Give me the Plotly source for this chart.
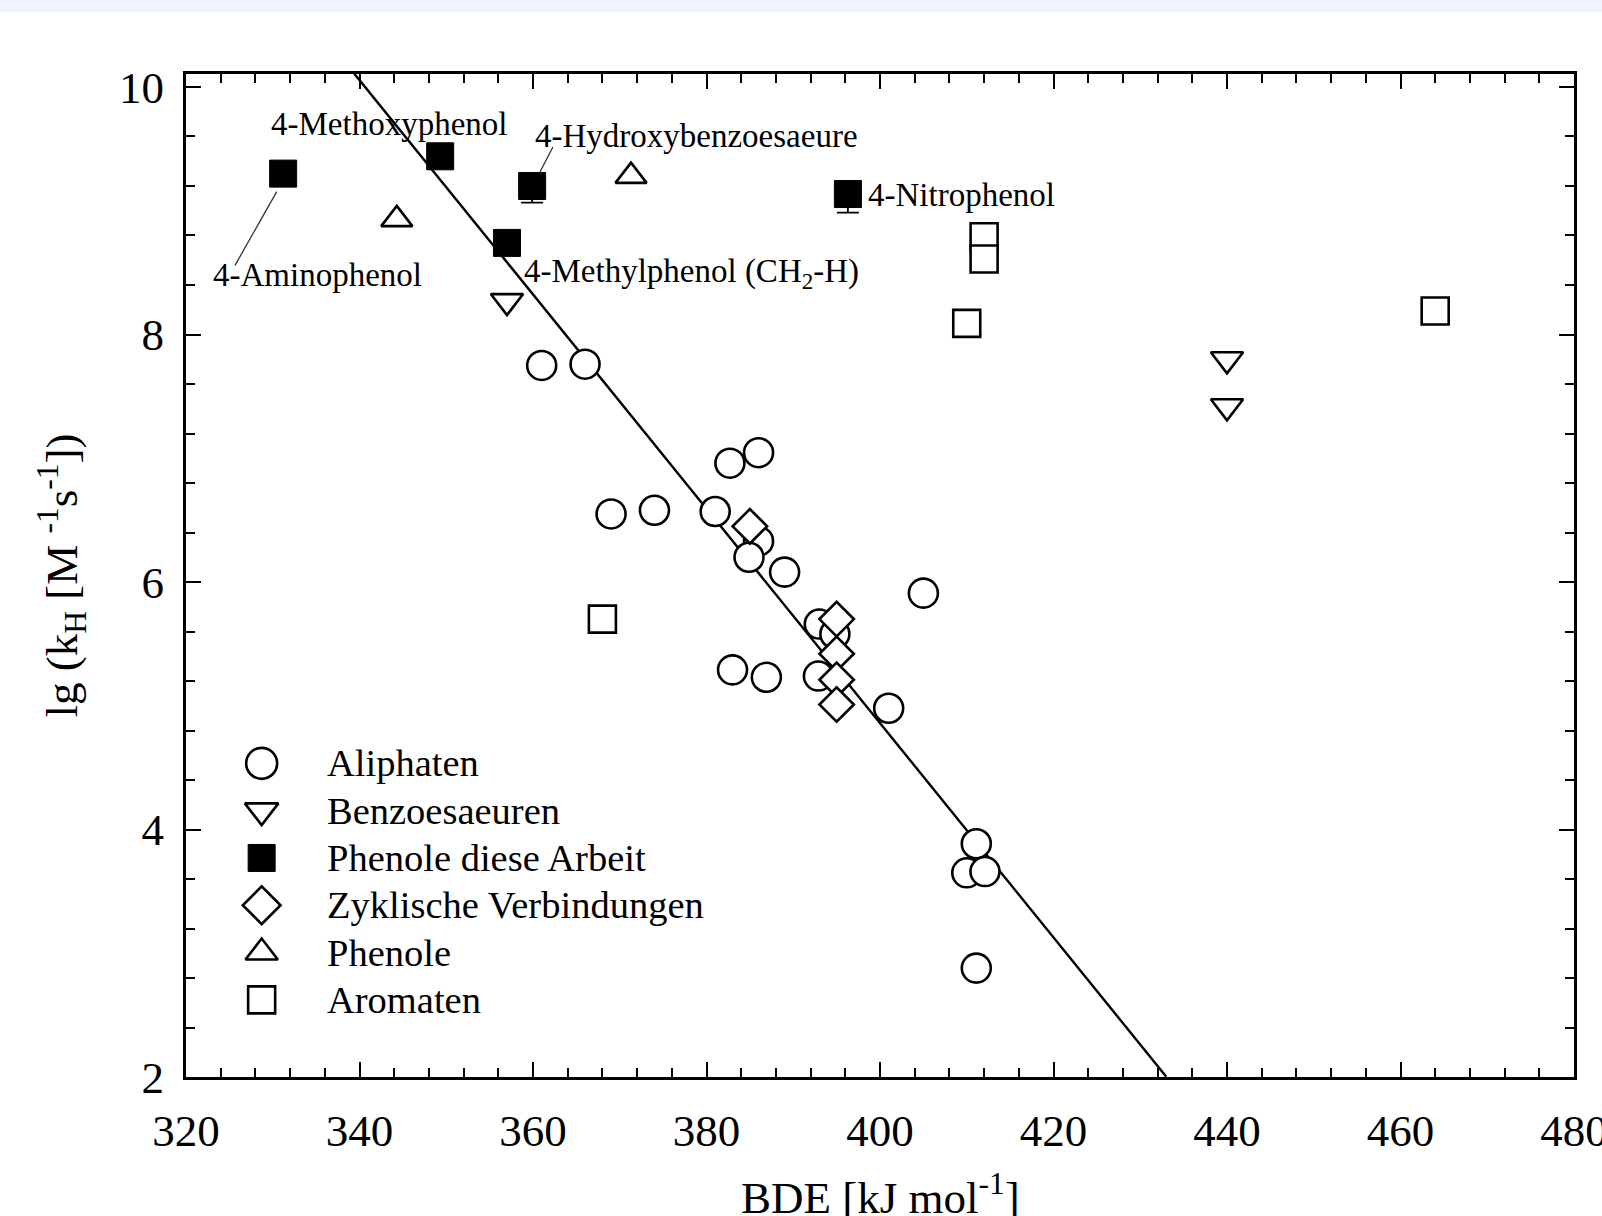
import plotly.graph_objects as go

FONT = "Liberation Serif, Times New Roman, serif"

# ---- data (BDE [kJ/mol], lg kH) ----
aliph_x = [361.0, 366.0, 382.7, 386.0, 369.0, 374.0, 381.0, 386.0, 384.9, 389.0, 405.0,
           393.0, 394.8, 383.0, 386.9, 392.9, 401.0, 411.1, 410.0, 412.1, 411.1]
aliph_y = [7.75, 7.76, 6.96, 7.045, 6.55, 6.58, 6.57, 6.33, 6.20, 6.08, 5.91,
           5.66, 5.58, 5.29, 5.23, 5.24, 4.98, 3.885, 3.65, 3.66, 2.88]

benz_x = [357.0, 440.0, 440.0]
benz_y = [8.27, 7.80, 7.42]

phen_work_x = [331.2, 349.3, 359.9, 357.0, 396.3]
phen_work_y = [9.30, 9.44, 9.20, 8.74, 9.135]
phen_work_err_minus = [0.0, 0.0, 0.135, 0.0, 0.15]

cyc_x = [385.0, 395.0, 395.0, 395.0, 395.0]
cyc_y = [6.45, 5.70, 5.42, 5.21, 5.01]

phen_x = [344.3, 371.3]
phen_y = [8.93, 9.28]

arom_x = [368.0, 410.0, 412.0, 412.0, 464.0]
arom_y = [5.70, 8.09, 8.79, 8.61, 8.19]

# linear fit lg kH = a + b * BDE
fit_a = 39.5
fit_b = -0.0866
fit_x = [339.4, 433.0]
fit_y = [fit_a + fit_b * v for v in fit_x]

# labels for the phenols of this work
label_text = ["4-Methoxyphenol", "4-Hydroxybenzoesaeure", "4-Nitrophenol",
              "4-Aminophenol", "4-Methylphenol (CH<sub>2</sub>-H)"]
label_x = [343.4, 360.0, 398.4, 322.9, 358.7]
label_y = [9.70, 9.60, 9.13, 8.48, 8.49]
label_anchor = ["center", "left", "left", "left", "left"]

# leader lines (x0, y0, x1, y1)
leaders = [(330.46, 9.154, 325.65, 8.559),
           (360.8, 9.313, 362.3, 9.515)]

legend_names = ["Aliphaten", "Benzoesaeuren", "Phenole diese Arbeit",
                "Zyklische Verbindungen", "Phenole", "Aromaten"]

x_title = "BDE [kJ mol<sup>-1</sup>]"
y_title = "lg (k<sub>H</sub> [M <sup>-1</sup>s<sup>-1</sup>])"

# ---- styles ----
def open_marker(sym, size):
    return dict(symbol=sym, size=size, color="white", line=dict(color="black", width=2.6))

styles = [
    open_marker("circle", 29),
    open_marker("triangle-down", 28),
    dict(symbol="square", size=27, color="black", line=dict(color="black", width=1)),
    open_marker("diamond", 26.5),
    open_marker("triangle-up", 27),
    open_marker("square", 27),
]
legend_styles = [
    open_marker("circle", 31),
    open_marker("triangle-down", 29),
    dict(symbol="square", size=27, color="black", line=dict(color="black", width=1)),
    open_marker("diamond", 29),
    open_marker("triangle-up", 28),
    open_marker("square", 27),
]

fig = go.Figure()

fig.add_trace(go.Scatter(x=fit_x, y=fit_y, mode="lines",
                         line=dict(color="black", width=2.4), showlegend=False,
                         hoverinfo="skip"))

series = [(aliph_x, aliph_y), (benz_x, benz_y), (phen_work_x, phen_work_y),
          (cyc_x, cyc_y), (phen_x, phen_y), (arom_x, arom_y)]

order = [0, 3, 1, 4, 5, 2]
for i in order:
    xs, ys = series[i]
    kw = {}
    if i == 2:
        kw["error_y"] = dict(type="data", symmetric=False,
                             array=[0] * len(phen_work_err_minus),
                             arrayminus=phen_work_err_minus,
                             color="black", thickness=1.8, width=11)
    fig.add_trace(go.Scatter(x=xs, y=ys, mode="markers", name=legend_names[i],
                             marker=styles[i], showlegend=False, cliponaxis=False, **kw))

# ---- custom legend on an auxiliary overlay axis (row index) ----
leg_sym_x = 0.0545
leg_txt_x = 0.1
rows = list(range(len(legend_names)))
for i in rows:
    fig.add_trace(go.Scatter(x=[leg_sym_x], y=[i], mode="markers", xaxis="x2", yaxis="y2",
                             marker=legend_styles[i], showlegend=False, hoverinfo="skip",
                             cliponaxis=False))
    fig.add_annotation(x=leg_txt_x, y=i, xref="x2", yref="y2", text=legend_names[i],
                       showarrow=False, xanchor="left", yanchor="middle",
                       font=dict(family=FONT, size=38.5, color="black"))

# ---- labels ----
for t, x, y, a in zip(label_text, label_x, label_y, label_anchor):
    fig.add_annotation(x=x, y=y, text=t, showarrow=False, xanchor=a, yanchor="middle",
                       font=dict(family=FONT, size=33, color="black"))

for (x0, y0, x1, y1) in leaders:
    fig.add_shape(type="line", x0=x0, y0=y0, x1=x1, y1=y1, xref="x", yref="y",
                  line=dict(color="#333333", width=1.3))

# x-axis title (as annotation so it may sit at the page edge like the original)
fig.add_annotation(x=0.5, y=-0.1176, xref="paper", yref="paper", text=x_title,
                   showarrow=False, xanchor="center", yanchor="middle",
                   font=dict(family=FONT, size=45, color="black"))

# top light band
fig.add_shape(type="rect", xref="paper", yref="paper", x0=-0.14, x1=1.03,
              y0=1.0618, y1=1.08, fillcolor="#EDF4FD", line=dict(width=0), layer="below")

axis_common = dict(showline=True, linecolor="black", linewidth=3, mirror="allticks",
                   ticks="inside", ticklen=15, tickwidth=2.4, tickcolor="black",
                   showgrid=False, zeroline=False, ticklabeloverflow="allow",
                   tickfont=dict(family=FONT, size=45, color="black"))

fig.update_layout(
    width=1602, height=1216,
    margin=dict(l=186, r=28, t=74, b=139, autoexpand=False),
    paper_bgcolor="white", plot_bgcolor="white",
    showlegend=False,
    xaxis=dict(range=[320, 480], tick0=320, dtick=20, automargin=False,
               minor=dict(dtick=4, tick0=320, ticks="inside", ticklen=9, tickwidth=1.8,
                          tickcolor="black", showgrid=False),
               ticklabelstandoff=12,
               **axis_common),
    yaxis=dict(range=[2, 10.105], tick0=2, dtick=2, automargin=False,
               minor=dict(dtick=0.4, tick0=2, ticks="inside", ticklen=9, tickwidth=1.8,
                          tickcolor="black", showgrid=False),
               ticklabelstandoff=10,
               title=dict(text=y_title, standoff=28,
                          font=dict(family=FONT, size=45, color="black")),
               **axis_common),
    xaxis2=dict(overlaying="x", anchor="y2", range=[0, 1], visible=False),
    yaxis2=dict(overlaying="y", anchor="x2", range=[6.63, -14.57], visible=False),
)

fig.write_html("out.html",
               config={"displayModeBar": False},
               post_script="document.body.style.margin='0';document.body.style.overflow='hidden';")
